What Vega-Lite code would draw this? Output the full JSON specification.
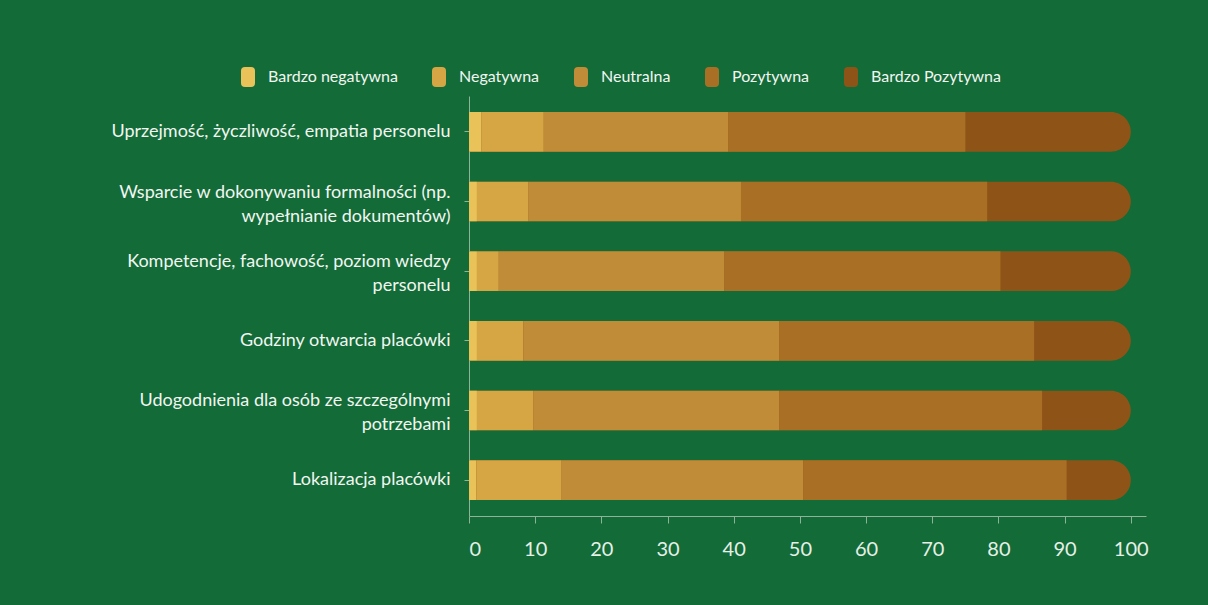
{
  "$schema": "https://vega.github.io/schema/vega-lite/v6.json",
  "autosize": "none",
  "width": 677,
  "height": 420,
  "padding": {"left": 469, "top": 96, "right": 62, "bottom": 89},
  "background": "#136b37",
  "config": {
    "view": {"stroke": null},
    "font": "Lato",
    "axis": {"grid": false, "title": null, "domainColor": "#8fb398", "tickColor": "#8fb398"}
  },
  "data": {
    "values": [
      {"aspekt": "Uprzejmość, życzliwość, empatia personelu", "ocena": "Bardzo negatywna", "wartosc": 1.9},
      {"aspekt": "Uprzejmość, życzliwość, empatia personelu", "ocena": "Negatywna", "wartosc": 9.4},
      {"aspekt": "Uprzejmość, życzliwość, empatia personelu", "ocena": "Neutralna", "wartosc": 27.9},
      {"aspekt": "Uprzejmość, życzliwość, empatia personelu", "ocena": "Pozytywna", "wartosc": 35.8},
      {"aspekt": "Uprzejmość, życzliwość, empatia personelu", "ocena": "Bardzo Pozytywna", "wartosc": 25.0},
      {"aspekt": "Wsparcie w dokonywaniu formalności (np. wypełnianie dokumentów)", "ocena": "Bardzo negatywna", "wartosc": 1.2},
      {"aspekt": "Wsparcie w dokonywaniu formalności (np. wypełnianie dokumentów)", "ocena": "Negatywna", "wartosc": 7.8},
      {"aspekt": "Wsparcie w dokonywaniu formalności (np. wypełnianie dokumentów)", "ocena": "Neutralna", "wartosc": 32.1},
      {"aspekt": "Wsparcie w dokonywaniu formalności (np. wypełnianie dokumentów)", "ocena": "Pozytywna", "wartosc": 37.2},
      {"aspekt": "Wsparcie w dokonywaniu formalności (np. wypełnianie dokumentów)", "ocena": "Bardzo Pozytywna", "wartosc": 21.7},
      {"aspekt": "Kompetencje, fachowość, poziom wiedzy personelu", "ocena": "Bardzo negatywna", "wartosc": 1.2},
      {"aspekt": "Kompetencje, fachowość, poziom wiedzy personelu", "ocena": "Negatywna", "wartosc": 3.3},
      {"aspekt": "Kompetencje, fachowość, poziom wiedzy personelu", "ocena": "Neutralna", "wartosc": 34.1},
      {"aspekt": "Kompetencje, fachowość, poziom wiedzy personelu", "ocena": "Pozytywna", "wartosc": 41.7},
      {"aspekt": "Kompetencje, fachowość, poziom wiedzy personelu", "ocena": "Bardzo Pozytywna", "wartosc": 19.7},
      {"aspekt": "Godziny otwarcia placówki", "ocena": "Bardzo negatywna", "wartosc": 1.2},
      {"aspekt": "Godziny otwarcia placówki", "ocena": "Negatywna", "wartosc": 7.0},
      {"aspekt": "Godziny otwarcia placówki", "ocena": "Neutralna", "wartosc": 38.7},
      {"aspekt": "Godziny otwarcia placówki", "ocena": "Pozytywna", "wartosc": 38.5},
      {"aspekt": "Godziny otwarcia placówki", "ocena": "Bardzo Pozytywna", "wartosc": 14.6},
      {"aspekt": "Udogodnienia dla osób ze szczególnymi potrzebami", "ocena": "Bardzo negatywna", "wartosc": 1.2},
      {"aspekt": "Udogodnienia dla osób ze szczególnymi potrzebami", "ocena": "Negatywna", "wartosc": 8.5},
      {"aspekt": "Udogodnienia dla osób ze szczególnymi potrzebami", "ocena": "Neutralna", "wartosc": 37.2},
      {"aspekt": "Udogodnienia dla osób ze szczególnymi potrzebami", "ocena": "Pozytywna", "wartosc": 39.7},
      {"aspekt": "Udogodnienia dla osób ze szczególnymi potrzebami", "ocena": "Bardzo Pozytywna", "wartosc": 13.4},
      {"aspekt": "Lokalizacja placówki", "ocena": "Bardzo negatywna", "wartosc": 1.1},
      {"aspekt": "Lokalizacja placówki", "ocena": "Negatywna", "wartosc": 12.9},
      {"aspekt": "Lokalizacja placówki", "ocena": "Neutralna", "wartosc": 36.5},
      {"aspekt": "Lokalizacja placówki", "ocena": "Pozytywna", "wartosc": 39.8},
      {"aspekt": "Lokalizacja placówki", "ocena": "Bardzo Pozytywna", "wartosc": 9.7}
    ]
  },
  "encoding": {
    "y": {
      "field": "aspekt",
      "type": "nominal",
      "sort": null,
      "scale": {"paddingInner": 0.43, "paddingOuter": 0.23},
      "axis": {
        "labelFontSize": 18,
        "labelColor": "#f2f6f2",
        "labelLimit": 420,
        "labelPadding": 14,
        "tickSize": 5,
        "labelLineHeight": 24,
        "labelOffset": {
          "condition": {
            "test": "indexof(['Wsparcie w dokonywaniu formalności (np. wypełnianie dokumentów)', 'Kompetencje, fachowość, poziom wiedzy personelu', 'Udogodnienia dla osób ze szczególnymi potrzebami'], datum.value) >= 0",
            "value": -9
          },
          "value": 0
        },
        "labelExpr": "datum.label == 'Wsparcie w dokonywaniu formalności (np. wypełnianie dokumentów)' ? ['Wsparcie w dokonywaniu formalności (np.', 'wypełnianie dokumentów)'] : datum.label == 'Kompetencje, fachowość, poziom wiedzy personelu' ? ['Kompetencje, fachowość, poziom wiedzy', 'personelu'] : datum.label == 'Udogodnienia dla osób ze szczególnymi potrzebami' ? ['Udogodnienia dla osób ze szczególnymi', 'potrzebami'] : datum.label"
      }
    }
  },
  "layer": [
    {
      "mark": {"type": "bar", "cornerRadiusEnd": 20, "color": "#8e5417"},
      "encoding": {
        "x": {
          "aggregate": "sum",
          "field": "wartosc",
          "type": "quantitative",
          "scale": {"domain": [0, 102.3], "nice": false},
          "axis": {
            "values": [0, 10, 20, 30, 40, 50, 60, 70, 80, 90, 100],
            "labelFontSize": 20,
            "labelColor": "#e6f0e8",
            "tickSize": 7,
            "labelPadding": 16
          }
        }
      }
    },
    {
      "transform": [{"filter": "datum.ocena != 'Bardzo Pozytywna'"}],
      "mark": {"type": "bar"},
      "encoding": {
        "x": {"field": "wartosc", "type": "quantitative", "stack": "zero"},
        "color": {
          "field": "ocena",
          "type": "nominal",
          "scale": {
            "domain": ["Bardzo negatywna", "Negatywna", "Neutralna", "Pozytywna", "Bardzo Pozytywna"],
            "range": ["#e9c35a", "#d6a645", "#c18c37", "#a97025", "#8e5417"]
          },
          "legend": {
            "title": null,
            "orient": "none",
            "legendX": -231,
            "legendY": -29,
            "direction": "horizontal",
            "columns": 5,
            "symbolType": "M-0.7,-0.6 Q-0.7,-1 -0.3,-1 L0.3,-1 Q0.7,-1 0.7,-0.6 L0.7,0.6 Q0.7,1 0.3,1 L-0.3,1 Q-0.7,1 -0.7,0.6 Z",
            "symbolSize": 400,
            "symbolStrokeWidth": 0,
            "symbolOpacity": 1,
            "labelFontSize": 16,
            "labelColor": "#f2f6f2",
            "labelOffset": 10,
            "columnPadding": 31,
            "labelLimit": 300
          }
        }
      }
    }
  ]
}
